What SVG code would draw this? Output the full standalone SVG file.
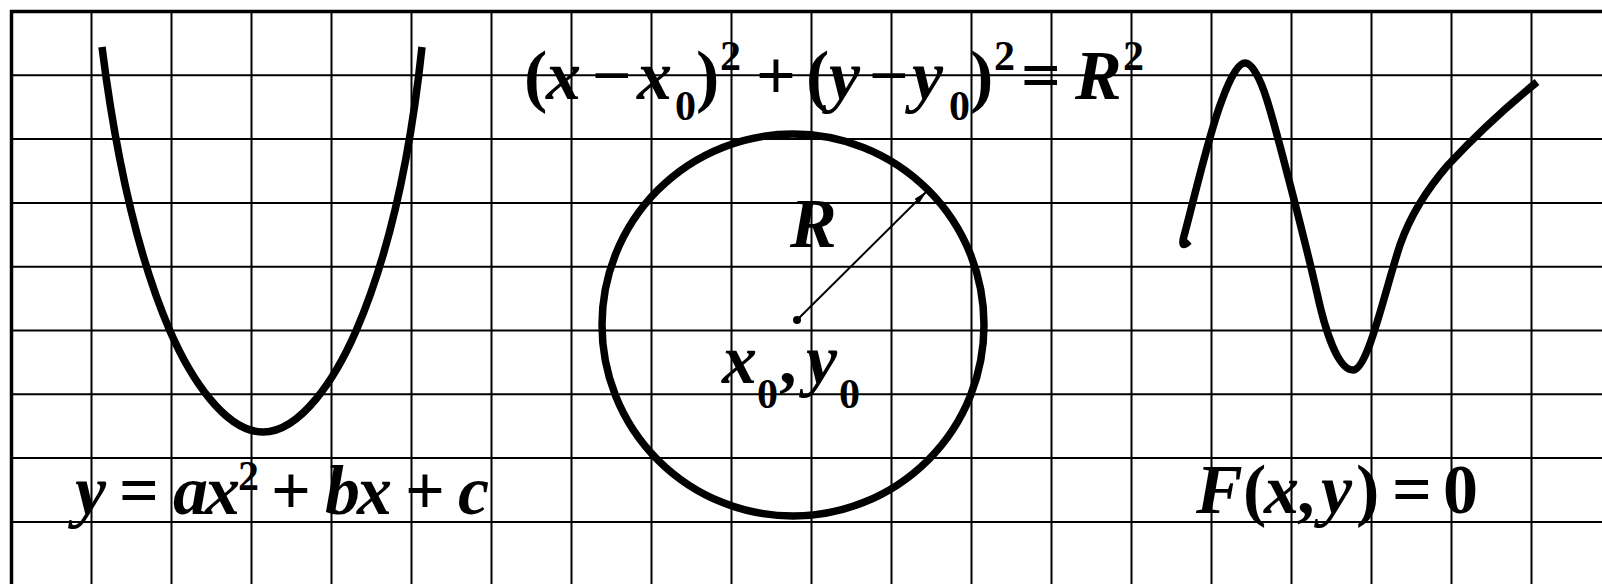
<svg xmlns="http://www.w3.org/2000/svg" width="1602" height="584" viewBox="0 0 1602 584">
<style>
.grid line{stroke:#000;stroke-width:2}
.border{stroke:#000;stroke-width:3.5;fill:none}
.curve{stroke:#000;stroke-width:7.5;fill:none;stroke-linecap:butt;stroke-linejoin:round}
.t{font-family:"Liberation Serif","Times New Roman",serif;font-weight:bold;font-size:70px;fill:#000}
.i{font-style:italic}
.s{font-size:42px;font-style:normal}
</style>
<defs>
<marker id="ah" markerWidth="14" markerHeight="8" refX="13" refY="4" orient="auto" markerUnits="userSpaceOnUse">
<path d="M0,0.8 L14,4 L0,7.2 Z" fill="#000"/>
</marker>
</defs>
<rect width="1602" height="584" fill="#fff"/>
<g id="grid" class="grid">
<line x1="91.5" y1="10" x2="91.5" y2="584"/>
<line x1="171.5" y1="10" x2="171.5" y2="584"/>
<line x1="251.5" y1="10" x2="251.5" y2="584"/>
<line x1="331.5" y1="10" x2="331.5" y2="584"/>
<line x1="411.5" y1="10" x2="411.5" y2="584"/>
<line x1="491.5" y1="10" x2="491.5" y2="584"/>
<line x1="571.5" y1="10" x2="571.5" y2="584"/>
<line x1="651.5" y1="10" x2="651.5" y2="584"/>
<line x1="731.5" y1="10" x2="731.5" y2="584"/>
<line x1="811.5" y1="10" x2="811.5" y2="584"/>
<line x1="891.5" y1="10" x2="891.5" y2="584"/>
<line x1="971.5" y1="10" x2="971.5" y2="584"/>
<line x1="1051.5" y1="10" x2="1051.5" y2="584"/>
<line x1="1131.5" y1="10" x2="1131.5" y2="584"/>
<line x1="1211.5" y1="10" x2="1211.5" y2="584"/>
<line x1="1291.5" y1="10" x2="1291.5" y2="584"/>
<line x1="1371.5" y1="10" x2="1371.5" y2="584"/>
<line x1="1451.5" y1="10" x2="1451.5" y2="584"/>
<line x1="1531.5" y1="10" x2="1531.5" y2="584"/>
<line x1="10" y1="75.3" x2="1602" y2="75.3"/>
<line x1="10" y1="139.1" x2="1602" y2="139.1"/>
<line x1="10" y1="202.9" x2="1602" y2="202.9"/>
<line x1="10" y1="266.7" x2="1602" y2="266.7"/>
<line x1="10" y1="330.5" x2="1602" y2="330.5"/>
<line x1="10" y1="394.3" x2="1602" y2="394.3"/>
<line x1="10" y1="458.1" x2="1602" y2="458.1"/>
<line x1="10" y1="521.9" x2="1602" y2="521.9"/>
<path class="border" d="M11.5,584 L11.5,11.5 L1602,11.5"/>
</g>
<g id="parabola">
<path class="curve" d="M102,47 C115,150 135,250 170,331 C190,377 225,432 263,432 C301,432 336,377 356,331 C391,250 411,150 422,47"/>
<text class="t" y="514"><tspan class="i" x="75">y</tspan><tspan x="119">=</tspan><tspan class="i" x="173">a</tspan><tspan class="i" x="205">x</tspan><tspan class="s" x="238" y="490">2</tspan><tspan x="271" y="514">+</tspan><tspan class="i" x="325">b</tspan><tspan class="i" x="357">x</tspan><tspan x="405">+</tspan><tspan class="i" x="458">c</tspan></text>
</g>
<g id="circle">
<circle cx="793" cy="325" r="191" fill="none" stroke="#000" stroke-width="7.5"/>
<circle cx="797" cy="320" r="4" fill="#000"/>
<text class="t" y="99"><tspan x="524">(</tspan><tspan class="i" x="546">x</tspan><tspan x="592">−</tspan><tspan class="i" x="637">x</tspan><tspan class="s" x="675" y="120">0</tspan><tspan x="696" y="99">)</tspan><tspan class="s" x="720" y="70">2</tspan><tspan x="756" y="99">+</tspan><tspan x="806">(</tspan><tspan class="i" x="829">y</tspan><tspan x="869">−</tspan><tspan class="i" x="912">y</tspan><tspan class="s" x="949" y="120">0</tspan><tspan x="970" y="99">)</tspan><tspan class="s" x="994" y="70">2</tspan><tspan x="1021" y="99">=</tspan><tspan class="i" x="1075">R</tspan><tspan class="s" x="1123" y="70">2</tspan></text>
<text class="t i" x="790" y="247">R</text>
<text class="t" y="383"><tspan class="i" x="722">x</tspan><tspan class="s" x="757" y="408">0</tspan><tspan x="779" y="383">,</tspan><tspan class="i" x="806">y</tspan><tspan class="s" x="839" y="408">0</tspan></text>
</g>
<g id="implicit">
<path class="curve" d="M1189,241 Q1180,250 1184,236 C1195,195 1210,130 1222,100 C1230,78 1238,63 1245,63 C1252,63 1260,78 1267,100 C1275,125 1305,240 1317,293 C1325,330 1338,370 1353,370 C1368,370 1385,290 1400,245 C1408,222 1422,195 1448,165 C1475,136 1505,108 1537,82"/>
<text class="t" y="513"><tspan class="i" x="1196">F</tspan><tspan x="1243">(</tspan><tspan class="i" x="1264">x</tspan><tspan x="1297">,</tspan><tspan class="i" x="1321">y</tspan><tspan x="1356">)</tspan><tspan x="1392">=</tspan><tspan x="1443">0</tspan></text>
</g>
<g id="connectors">
<line x1="797" y1="320" x2="926" y2="192" stroke="#000" stroke-width="2" marker-end="url(#ah)"/>
</g>
</svg>
